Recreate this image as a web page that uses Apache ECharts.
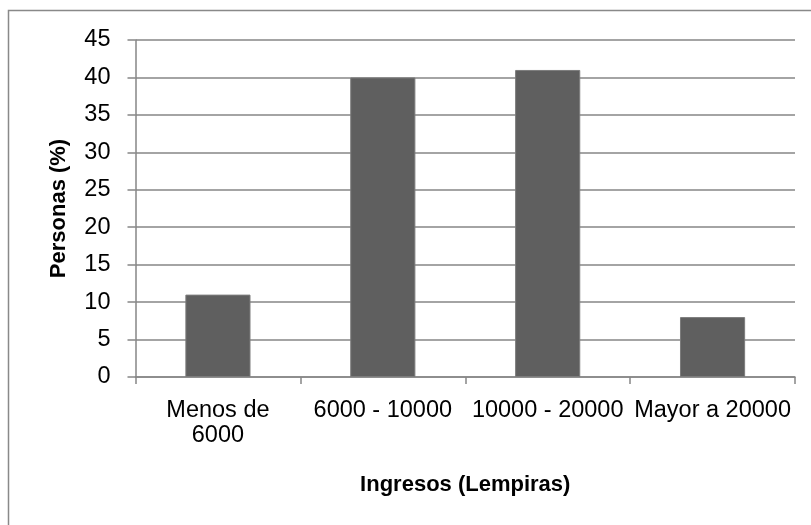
<!DOCTYPE html>
<html>
<head>
<meta charset="utf-8">
<script src="https://cdn.jsdelivr.net/npm/echarts@6/dist/echarts.min.js"></script>
<style>
html,body{margin:0;padding:0;background:#fff;}
#chart{width:811px;height:525px;}
</style>
</head>
<body>
<div id="chart"></div>
<script>
var categories = ['Menos de 6000', '6000 - 10000', '10000 - 20000', 'Mayor a 20000'];
var values = [11, 40, 41, 8];
var yTicks = [0, 5, 10, 15, 20, 25, 30, 35, 40, 45];
var xTitle = 'Ingresos (Lempiras)';
var yTitle = 'Personas (%)';

var FONT = 'Liberation Sans';
var chart = echarts.init(document.getElementById('chart'), null, {renderer: 'canvas'});
chart.setOption({
  animation: false,
  backgroundColor: '#ffffff',
  graphic: [{
    type: 'rect',
    shape: {x: 8.5, y: 10.5, width: 820, height: 530},
    style: {fill: 'none', stroke: '#898989', lineWidth: 1.5},
    silent: true
  }],
  grid: {left: 135.5, right: 16, top: 40, bottom: 148, containLabel: false},
  xAxis: {
    type: 'category',
    data: categories,
    name: xTitle,
    nameLocation: 'middle',
    nameGap: 97,
    nameTextStyle: {fontFamily: FONT, fontSize: 22, fontWeight: 'bold', color: '#000'},
    axisLine: {lineStyle: {color: '#868686', width: 1.5}},
    axisTick: {show: true, length: 7, alignWithLabel: false, lineStyle: {color: '#868686', width: 1.5}},
    axisLabel: {
      interval: 0,
      margin: 21,
      fontFamily: FONT,
      fontSize: 23.5,
      lineHeight: 25,
      color: '#000',
      formatter: function (v) { return v === 'Menos de 6000' ? 'Menos de\n6000' : v; }
    },
    splitLine: {show: false}
  },
  yAxis: {
    type: 'value',
    min: 0,
    max: 45,
    interval: 5,
    name: yTitle,
    nameLocation: 'middle',
    nameGap: 66,
    nameRotate: 90,
    nameTextStyle: {fontFamily: FONT, fontSize: 22, fontWeight: 'bold', color: '#000'},
    axisLine: {show: true, lineStyle: {color: '#868686', width: 1.5}},
    axisTick: {show: true, length: 8, lineStyle: {color: '#868686', width: 1.5}},
    axisLabel: {
      margin: 25,
      fontFamily: FONT,
      fontSize: 23.5,
      color: '#000',
      formatter: function (v) { return yTicks.indexOf(v) >= 0 ? String(v) : ''; }
    },
    splitLine: {show: true, lineStyle: {color: '#868686', width: 1.5}}
  },
  series: [{
    type: 'bar',
    data: values,
    barWidth: '39.5%',
    itemStyle: {color: '#5f5f5f', borderColor: '#7c7c7c', borderWidth: 1},
    silent: true
  }]
});
</script>
</body>
</html>
